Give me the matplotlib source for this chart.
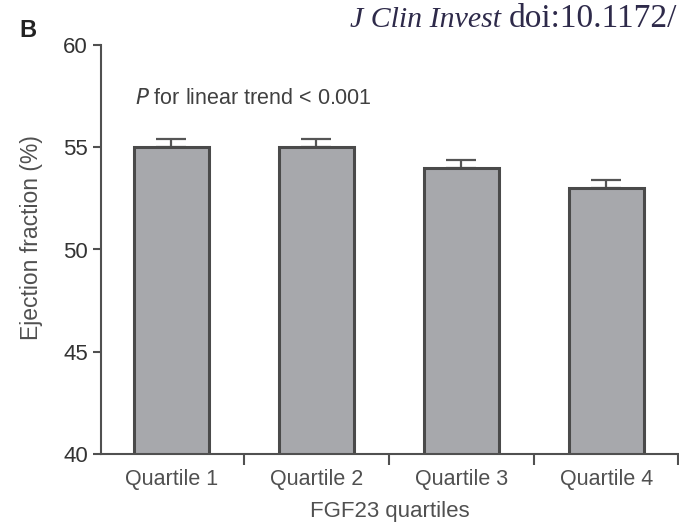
import matplotlib.pyplot as plt
import numpy as np

quartiles = ["Quartile 1", "Quartile 2", "Quartile 3", "Quartile 4"]
ef_mean = [55.0, 55.0, 54.0, 53.0]
ef_sem = [0.4, 0.4, 0.4, 0.4]

plt.rcParams['font.family'] = ['Liberation Sans', 'DejaVu Sans']

fig = plt.figure(figsize=(6.79, 5.25), dpi=100)
# axis runs to the right edge of the figure
ax = fig.add_axes([101 / 679, 71 / 525, 578 / 679, 409 / 525])

x = np.arange(len(quartiles))
ax.bar(x, ef_mean, width=0.52, color="#a7a8ac", edgecolor="#4a4a4a", linewidth=2.2, zorder=2)
ax.errorbar(x, ef_mean, yerr=[np.zeros(len(ef_sem)), ef_sem], fmt="none",
            ecolor="#555555", elinewidth=1.6, capsize=10.5, capthick=1.6, zorder=1)

ax.set_ylim(40, 60)
ax.set_xlim(-0.485, 3.5)
ax.set_yticks([40, 45, 50, 55, 60])
ax.set_xticks(x)
ax.set_xticklabels(quartiles)
ax.set_xticks([0.5, 1.5, 2.5, 3.49], minor=True)

for side in ["top", "right"]:
    ax.spines[side].set_visible(False)
for side in ["left", "bottom"]:
    ax.spines[side].set_color("#505050")
    ax.spines[side].set_linewidth(1.5)

ax.tick_params(axis="y", length=6, width=1.5, color="#505050", pad=3.5,
               labelsize=16, labelcolor="#333333")
ax.tick_params(axis="x", which="major", length=0, pad=11, labelsize=15.5, labelcolor="#505050")
ax.tick_params(axis="x", which="minor", length=8, width=1.5, color="#505050")

ax.set_ylabel("Ejection fraction (%)", fontsize=16.5, color="#505050")
ax.yaxis.set_label_coords(-0.1, 0.53)
ax.set_xlabel("FGF23 quartiles", fontsize=16, color="#505050", labelpad=8)

ax.text(0.058, 0.855, r"$\it{P}$ for linear trend < 0.001", transform=ax.transAxes,
        fontsize=15.5, color="#404040")

fig.text(0.028, 0.93, "B", fontsize=17, fontweight="bold", color="#222222")
fig.text(0.515, 0.949, "J Clin Invest", fontsize=21.5, family="Liberation Serif",
         style="italic", color="#2e2a4a", va="baseline")
fig.text(0.749, 0.949, "doi:10.1172/", fontsize=24, family="Liberation Serif",
         color="#2e2a4a", va="baseline")

fig.savefig("out.png", dpi=100)
